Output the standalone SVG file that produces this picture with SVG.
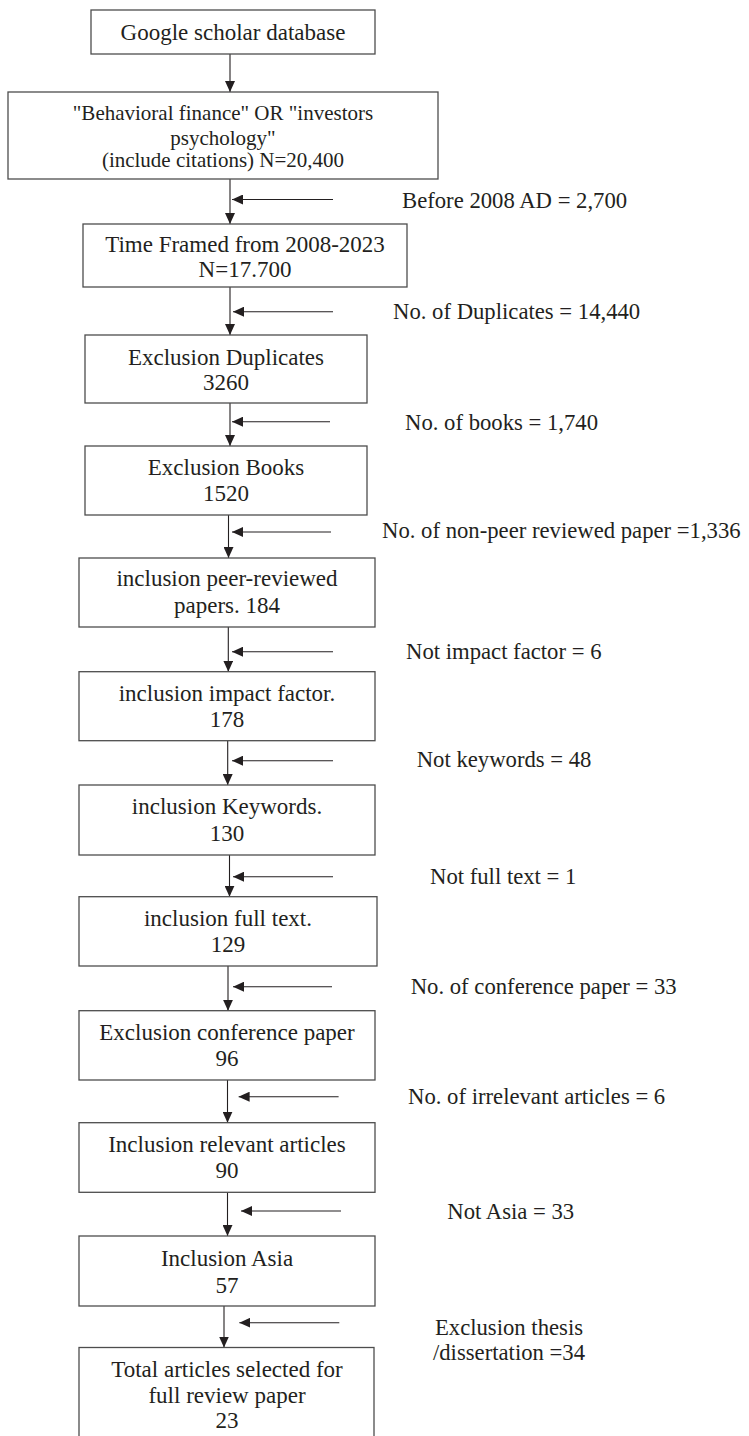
<svg xmlns="http://www.w3.org/2000/svg" width="749" height="1436" viewBox="0 0 749 1436">
<style>
.box{fill:#fff;stroke:#4d4d4d;stroke-width:1.3}
.t{font-family:"Liberation Serif","Times New Roman",serif;font-size:23px;fill:#231f20;text-anchor:middle}
.t2{font-family:"Liberation Serif","Times New Roman",serif;font-size:21px;fill:#231f20;text-anchor:middle}
.lbl{font-family:"Liberation Serif","Times New Roman",serif;font-size:22.7px;fill:#231f20}
.arr{stroke:#231f20;stroke-width:1.1;fill:none;marker-end:url(#ah)}
</style>
<defs>
<marker id="ah" markerUnits="userSpaceOnUse" viewBox="0 0 11 10" markerWidth="11" markerHeight="10" refX="11" refY="5" orient="auto">
<path d="M0,0 L11,5 L0,10 z" fill="#231f20"/>
</marker>
</defs>
<rect width="749" height="1436" fill="#fff"/>
<g id="connectors">
<line class="arr" x1="230" y1="54" x2="230" y2="92"/>
<line class="arr" x1="230" y1="179" x2="230" y2="224"/>
<line class="arr" x1="333" y1="199.5" x2="232" y2="199.5"/>
<line class="arr" x1="230" y1="287" x2="230" y2="335"/>
<line class="arr" x1="333" y1="311.7" x2="233" y2="311.7"/>
<line class="arr" x1="230" y1="403" x2="230" y2="446"/>
<line class="arr" x1="330" y1="421.7" x2="232" y2="421.7"/>
<line class="arr" x1="228.5" y1="515" x2="228.5" y2="558"/>
<line class="arr" x1="331" y1="532" x2="232" y2="532"/>
<line class="arr" x1="228.3" y1="627" x2="228.3" y2="671.7"/>
<line class="arr" x1="333" y1="651.7" x2="232" y2="651.7"/>
<line class="arr" x1="227.7" y1="740.7" x2="227.7" y2="785"/>
<line class="arr" x1="333" y1="760.7" x2="232" y2="760.7"/>
<line class="arr" x1="229.5" y1="855" x2="229.5" y2="896.7"/>
<line class="arr" x1="333" y1="876.7" x2="233" y2="876.7"/>
<line class="arr" x1="228" y1="966" x2="228" y2="1010.7"/>
<line class="arr" x1="332" y1="986.7" x2="233" y2="986.7"/>
<line class="arr" x1="227.5" y1="1080" x2="227.5" y2="1122.7"/>
<line class="arr" x1="338.6" y1="1096.7" x2="238.6" y2="1096.7"/>
<line class="arr" x1="227.5" y1="1192.3" x2="227.5" y2="1236"/>
<line class="arr" x1="341" y1="1211" x2="241" y2="1211"/>
<line class="arr" x1="224" y1="1306" x2="224" y2="1347.5"/>
<line class="arr" x1="339.3" y1="1322.7" x2="239.3" y2="1322.7"/>
</g>
<g id="n1"><rect class="box" x="91" y="10" width="284" height="44"/><text class="t" x="233" y="39.5">Google scholar database</text></g>
<g id="n2"><rect class="box" x="8" y="92" width="430" height="87"/><text class="t2" x="223" y="120">"Behavioral finance" OR "investors</text><text class="t2" x="223" y="145">psychology"</text><text class="t2" x="223" y="167.3">(include citations) N=20,400</text></g>
<g id="n3"><rect class="box" x="83" y="224" width="324" height="63"/><text class="t" x="245" y="251.5">Time Framed from 2008-2023</text><text class="t" x="245" y="276.5">N=17.700</text></g>
<g id="n4"><rect class="box" x="85" y="335" width="282" height="68"/><text class="t" x="226" y="364.5">Exclusion Duplicates</text><text class="t" x="226" y="390">3260</text></g>
<g id="n5"><rect class="box" x="85" y="446" width="282" height="69"/><text class="t" x="226" y="474.5">Exclusion Books</text><text class="t" x="226" y="500.5">1520</text></g>
<g id="n6"><rect class="box" x="79" y="558" width="296" height="69"/><text class="t" x="227" y="586">inclusion peer-reviewed</text><text class="t" x="227" y="613">papers. 184</text></g>
<g id="n7"><rect class="box" x="79" y="671.7" width="296" height="69"/><text class="t" x="227" y="700.5">inclusion impact factor.</text><text class="t" x="227" y="727">178</text></g>
<g id="n8"><rect class="box" x="79" y="785" width="296" height="70"/><text class="t" x="227" y="814">inclusion Keywords.</text><text class="t" x="227" y="840.5">130</text></g>
<g id="n9"><rect class="box" x="79" y="896.7" width="298" height="69.3"/><text class="t" x="228" y="926">inclusion full text.</text><text class="t" x="228" y="952">129</text></g>
<g id="n10"><rect class="box" x="79" y="1010.7" width="296" height="69.3"/><text class="t" x="227" y="1040">Exclusion conference paper</text><text class="t" x="227" y="1066">96</text></g>
<g id="n11"><rect class="box" x="79" y="1122.7" width="296" height="69.6"/><text class="t" x="227" y="1152">Inclusion relevant articles</text><text class="t" x="227" y="1178">90</text></g>
<g id="n12"><rect class="box" x="79" y="1236" width="296" height="70"/><text class="t" x="227" y="1266">Inclusion Asia</text><text class="t" x="227" y="1292.5">57</text></g>
<g id="n13"><rect class="box" x="79" y="1347.5" width="295" height="110"/><text class="t" x="227" y="1376.7">Total articles selected for</text><text class="t" x="227" y="1403">full review paper</text><text class="t" x="227" y="1428.3">23</text></g>
<g id="labels">
<text class="lbl" x="402" y="208">Before 2008 AD = 2,700</text>
<text class="lbl" x="393" y="318.5">No. of Duplicates = 14,440</text>
<text class="lbl" x="405" y="429.5">No. of books = 1,740</text>
<text class="lbl" x="382" y="538">No. of non-peer reviewed paper =1,336</text>
<text class="lbl" x="406" y="658.5">Not impact factor = 6</text>
<text class="lbl" x="416.7" y="767">Not keywords = 48</text>
<text class="lbl" x="430" y="883.5">Not full text = 1</text>
<text class="lbl" x="410.7" y="993.5">No. of conference paper = 33</text>
<text class="lbl" x="408" y="1103.5">No. of irrelevant articles = 6</text>
<text class="lbl" x="447.3" y="1219">Not Asia = 33</text>
<text class="lbl" x="509" y="1334.5" text-anchor="middle">Exclusion thesis</text>
<text class="lbl" x="509" y="1360" text-anchor="middle">/dissertation =34</text>
</g>
</svg>
